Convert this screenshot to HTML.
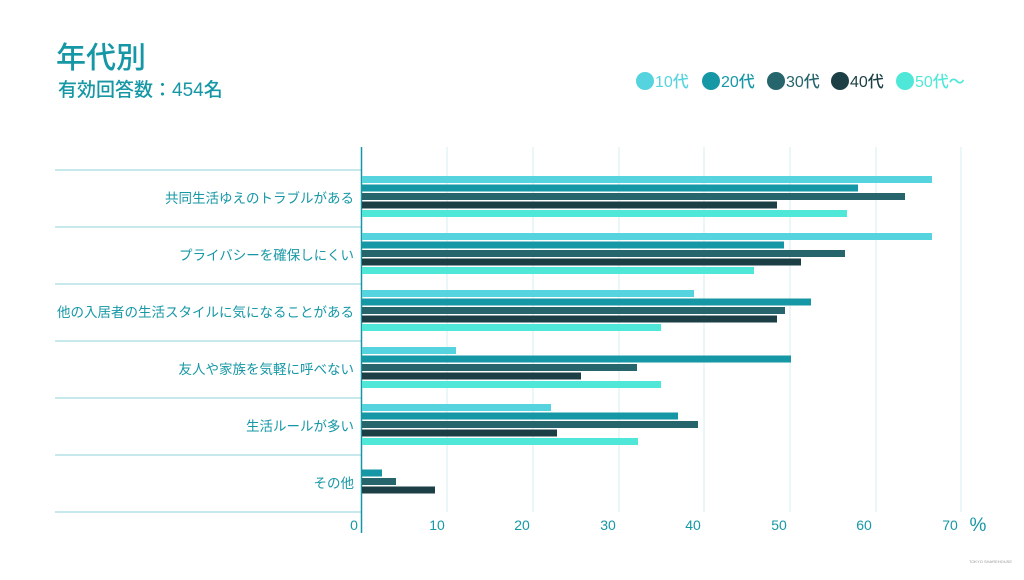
<!DOCTYPE html>
<html><head><meta charset="utf-8"><style>
body{margin:0;background:#fff;width:1024px;height:575px;overflow:hidden;font-family:"Liberation Sans","Noto Sans CJK JP",sans-serif}
</style></head><body>
<svg width="1024" height="575" xmlns="http://www.w3.org/2000/svg" font-family="Liberation Sans, Noto Sans CJK JP, sans-serif">
<text x="56" y="68" font-size="30" fill="#1697a6" font-weight="500">年代別</text>
<text x="58" y="96" font-size="19" fill="#1697a6" font-weight="500">有効回答数：454名</text>
<g font-size="16" font-weight="500">
<circle cx="645" cy="81" r="9" fill="#55d3df"/><text x="655" y="87" fill="#55d3df">10代</text>
<circle cx="711" cy="81" r="9" fill="#1697a6"/><text x="721" y="87" fill="#1697a6">20代</text>
<circle cx="776" cy="81" r="9" fill="#26656c"/><text x="786" y="87" fill="#26656c">30代</text>
<circle cx="840" cy="81" r="9" fill="#1b3f45"/><text x="850" y="87" fill="#1b3f45">40代</text>
<circle cx="905" cy="81" r="9" fill="#4fe8d8"/><text x="915" y="87" fill="#4fe8d8">50代〜</text>
</g>
<g stroke="#d6eef0" stroke-width="1">
<line x1="447" y1="147" x2="447" y2="512"/><line x1="533" y1="147" x2="533" y2="512"/>
<line x1="619" y1="147" x2="619" y2="512"/><line x1="704" y1="147" x2="704" y2="512"/>
<line x1="790" y1="147" x2="790" y2="512"/><line x1="876" y1="147" x2="876" y2="512"/>
<line x1="961" y1="147" x2="961" y2="512"/>
</g>
<g stroke="#8fd3dc" stroke-width="1">
<line x1="55" y1="170" x2="361" y2="170"/><line x1="55" y1="227" x2="361" y2="227"/>
<line x1="55" y1="284" x2="361" y2="284"/><line x1="55" y1="341" x2="361" y2="341"/>
<line x1="55" y1="398" x2="361" y2="398"/><line x1="55" y1="455" x2="361" y2="455"/>
<line x1="55" y1="512" x2="361" y2="512"/>
</g>
<line x1="361.5" y1="147" x2="361.5" y2="533" stroke="#1697a6" stroke-width="1.5"/>
<g>
<rect x="362" y="176" width="570" height="7" fill="#55d3df"/>
<rect x="362" y="184.5" width="496" height="7" fill="#1697a6"/>
<rect x="362" y="193" width="543" height="7" fill="#26656c"/>
<rect x="362" y="201.5" width="415" height="7" fill="#1b3f45"/>
<rect x="362" y="210" width="485" height="7" fill="#4fe8d8"/>

<rect x="362" y="233" width="570" height="7" fill="#55d3df"/>
<rect x="362" y="241.5" width="422" height="7" fill="#1697a6"/>
<rect x="362" y="250" width="483" height="7" fill="#26656c"/>
<rect x="362" y="258.5" width="439" height="7" fill="#1b3f45"/>
<rect x="362" y="267" width="392" height="7" fill="#4fe8d8"/>

<rect x="362" y="290" width="332" height="7" fill="#55d3df"/>
<rect x="362" y="298.5" width="449" height="7" fill="#1697a6"/>
<rect x="362" y="307" width="423" height="7" fill="#26656c"/>
<rect x="362" y="315.5" width="415" height="7" fill="#1b3f45"/>
<rect x="362" y="324" width="299" height="7" fill="#4fe8d8"/>

<rect x="362" y="347" width="94" height="7" fill="#55d3df"/>
<rect x="362" y="355.5" width="429" height="7" fill="#1697a6"/>
<rect x="362" y="364" width="275" height="7" fill="#26656c"/>
<rect x="362" y="372.5" width="219" height="7" fill="#1b3f45"/>
<rect x="362" y="381" width="299" height="7" fill="#4fe8d8"/>

<rect x="362" y="404" width="189" height="7" fill="#55d3df"/>
<rect x="362" y="412.5" width="316" height="7" fill="#1697a6"/>
<rect x="362" y="421" width="336" height="7" fill="#26656c"/>
<rect x="362" y="429.5" width="195" height="7" fill="#1b3f45"/>
<rect x="362" y="438" width="276" height="7" fill="#4fe8d8"/>

<rect x="362" y="469.5" width="20" height="7" fill="#1697a6"/>
<rect x="362" y="478" width="34" height="7" fill="#26656c"/>
<rect x="362" y="486.5" width="73" height="7" fill="#1b3f45"/>
</g>
<g font-size="13.5" fill="#1697a6" text-anchor="end">
<text x="354" y="203">共同生活ゆえのトラブルがある</text>
<text x="354" y="260">プライバシーを確保しにくい</text>
<text x="354" y="317">他の入居者の生活スタイルに気になることがある</text>
<text x="354" y="374">友人や家族を気軽に呼べない</text>
<text x="354" y="431">生活ルールが多い</text>
<text x="354" y="488">その他</text>
</g>
<g font-size="14" fill="#1697a6" text-anchor="middle">
<text x="354" y="530">0</text><text x="437" y="530">10</text><text x="522" y="530">20</text>
<text x="608" y="530">30</text><text x="693" y="530">40</text><text x="779" y="530">50</text>
<text x="864" y="530">60</text><text x="950" y="530">70</text>
<text x="978" y="531" font-size="19">%</text>
</g>
<text x="1012" y="563" font-size="4" fill="#999" text-anchor="end">TOKYO SHAREHOUSE</text>
</svg>
</body></html>
